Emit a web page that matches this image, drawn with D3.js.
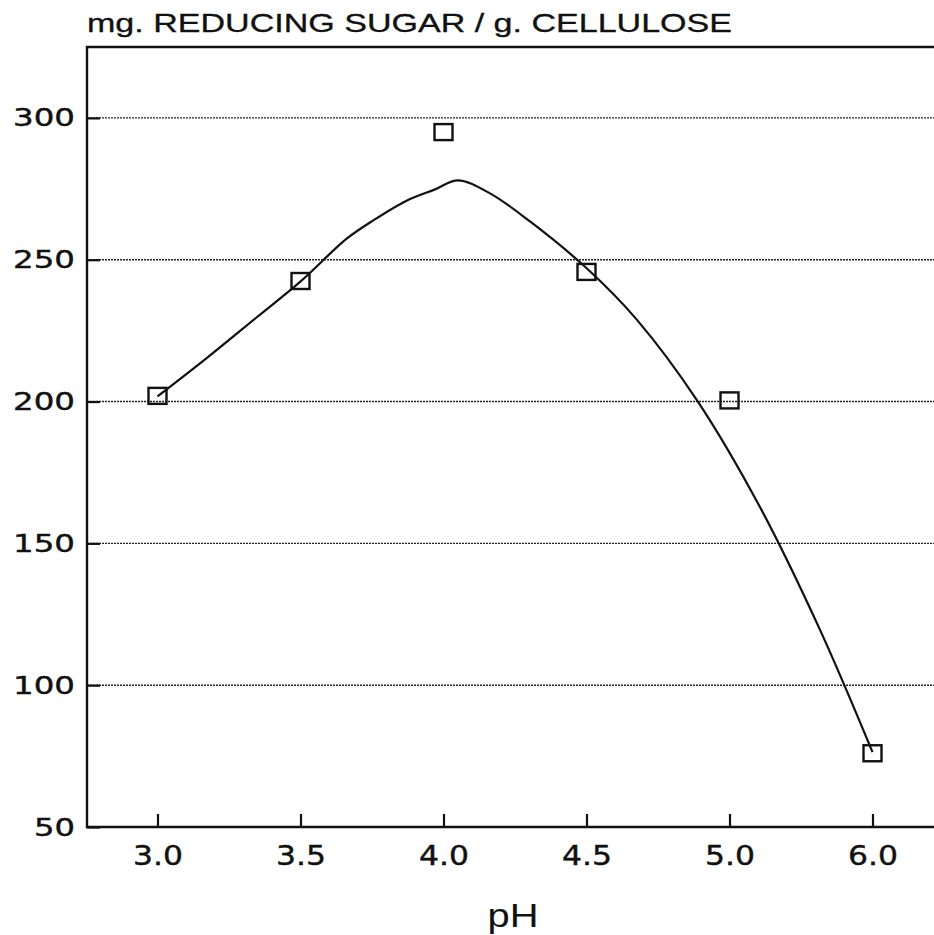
<!DOCTYPE html>
<html><head><meta charset="utf-8">
<script src="https://cdn.jsdelivr.net/npm/d3@7"></script>
<style>html,body{margin:0;padding:0;background:#fff;}svg{display:block;}</style>
</head><body>
<script>
const phLabels = ["3.0","3.5","4.0","4.5","5.0","6.0"];
const sugarValues = [202, 242.5, 295, 245.7, 200.4, 76];
const yTicks = [50, 100, 150, 200, 250, 300];
// fitted curve: position on the (evenly spaced) pH axis and value
const curvePos = [0, 0.346, 0.696, 0.997, 1.325, 1.507, 1.745, 1.941, 2.101, 2.325, 2.605, 3.003, 3.353, 3.78, 4.213, 4.633, 5.0];
const curveVal = [201.8, 215.4, 229.8, 242.2, 257.5, 263.8, 270.9, 274.8, 278.0, 273.4, 263.5, 246.9, 228.8, 199.9, 162.8, 119.5, 76.4];

const W = 934, H = 935;
const svg = d3.select("body").append("svg").attr("width", W).attr("height", H);
const x = d3.scaleLinear().domain([0, 5]).range([157.5, 872.5]);
const y = d3.scaleLinear().domain([50, 325]).range([827, 47]);
const pLeft = 87, pRight = W + 10, pTop = y(325), pBottom = y(50);
const ink = "#111";

// gridlines
svg.append("g").selectAll("line").data(yTicks.filter(v => v > 50)).join("line")
  .attr("x1", pLeft).attr("x2", pRight).attr("y1", d => y(d)).attr("y2", d => y(d))
  .attr("stroke", "#222").attr("stroke-width", 1.4).attr("stroke-dasharray", "2,1");

// frame
svg.append("path").attr("d", `M${pRight},${pTop}H${pLeft}V${pBottom}H${pRight}`)
  .attr("fill", "none").attr("stroke", ink).attr("stroke-width", 2.4);

// y ticks & labels
const yAxis = d3.axisLeft(y).tickValues(yTicks).tickSize(-13).tickPadding(12).tickFormat(d3.format("d"));
const gy = svg.append("g").attr("transform", `translate(${pLeft},0)`).call(yAxis);
gy.select(".domain").remove();
gy.selectAll(".tick line").attr("stroke", ink).attr("stroke-width", 2.2);
gy.selectAll(".tick text").attr("font-family", "DejaVu Sans, sans-serif").attr("font-size", 25)
  .attr("fill", ink).attr("stroke", ink).attr("stroke-width", 0.4).attr("x", -12)
  .attr("textLength", d => d >= 100 ? 62 : 41).attr("lengthAdjust", "spacingAndGlyphs");

// x ticks & labels
const xAxis = d3.axisBottom(x).tickValues(d3.range(6)).tickSize(-13).tickPadding(20).tickFormat(i => phLabels[i]);
const gx = svg.append("g").attr("transform", `translate(0,${pBottom})`).call(xAxis);
gx.select(".domain").remove();
gx.selectAll(".tick line").attr("stroke", ink).attr("stroke-width", 2.2);
gx.selectAll(".tick text").attr("font-family", "DejaVu Sans, sans-serif").attr("font-size", 26)
  .attr("fill", ink).attr("stroke", ink).attr("stroke-width", 0.4)
  .attr("textLength", 50).attr("lengthAdjust", "spacingAndGlyphs");

// curve
const line = d3.line().x(d => x(d[0])).y(d => y(d[1])).curve(d3.curveCatmullRom.alpha(0.5));
svg.append("path").datum(curvePos.map((p, i) => [p, curveVal[i]]))
  .attr("d", line).attr("fill", "none").attr("stroke", ink).attr("stroke-width", 2.2);

// markers
const sw = 18, sh = 16;
svg.append("g").selectAll("rect").data(sugarValues).join("rect")
  .attr("x", (d, i) => x(i) - sw / 2).attr("y", d => y(d) - sh / 2)
  .attr("width", sw).attr("height", sh)
  .attr("fill", "none").attr("stroke", ink).attr("stroke-width", 2.4);

// titles
svg.append("text").attr("x", 87).attr("y", 32).text("mg. REDUCING SUGAR / g. CELLULOSE")
  .attr("font-family", "Liberation Sans, Arial, sans-serif").attr("font-size", 25).attr("fill", ink)
  .attr("stroke", ink).attr("stroke-width", 0.3)
  .attr("textLength", 645).attr("lengthAdjust", "spacingAndGlyphs");
svg.append("text").attr("x", 513).attr("y", 927).attr("text-anchor", "middle").text("pH")
  .attr("font-family", "Liberation Sans, Arial, sans-serif").attr("font-size", 33).attr("fill", ink)
  .attr("textLength", 51).attr("lengthAdjust", "spacingAndGlyphs");
</script>
</body></html>
